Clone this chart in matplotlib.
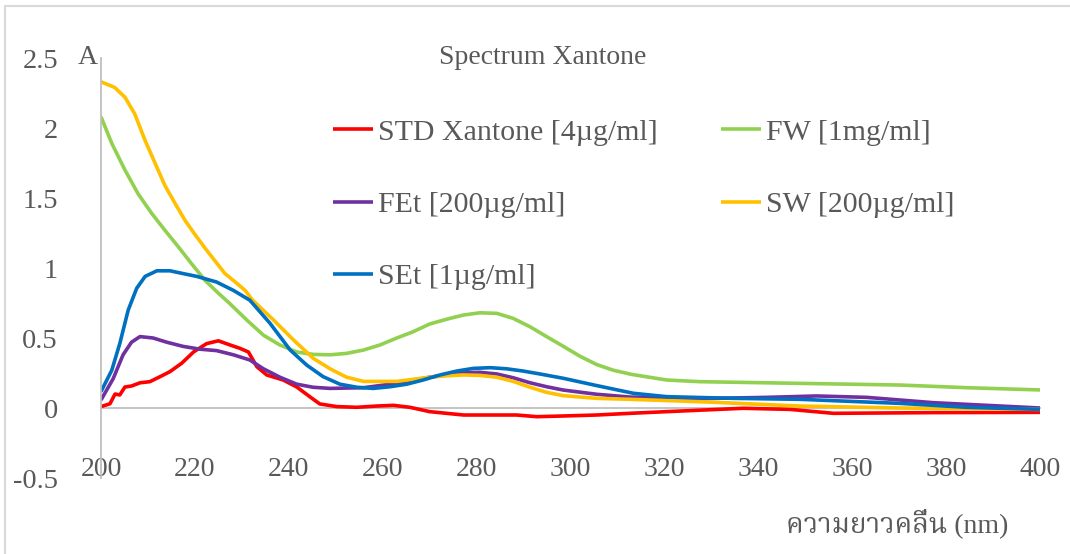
import numpy as np
import matplotlib
matplotlib.use("Agg")
import matplotlib.pyplot as plt
from matplotlib.lines import Line2D

# valeurs (longueur d'onde en nm, absorbance A)
std_x = [200, 201.9, 203, 204, 205.1, 206.5, 208.3, 210.4, 212.6, 214.7, 217.2, 219.7, 222.5,
         225, 227.5, 229.6, 231.4, 233.2, 235.3, 238.8, 241.7, 244.5, 246.6, 250.2, 254.5,
         258.7, 262.3, 265.8, 270, 277.2, 284.3, 288.5, 292.8, 298.5, 305.6, 312.7, 320.5,
         336.8, 346.8, 356, 377.3, 400]
std_y = [0.01, 0.03, 0.10, 0.093, 0.15, 0.157, 0.18, 0.188, 0.224, 0.26, 0.32, 0.40, 0.46,
         0.48, 0.45, 0.426, 0.40, 0.295, 0.236, 0.20, 0.15, 0.08, 0.029, 0.01, 0.005,
         0.014, 0.019, 0.005, -0.026, -0.05, -0.05, -0.05, -0.062, -0.057, -0.05, -0.038, -0.026,
         -0.002, -0.01, -0.038, -0.033, -0.031]

fw_x = [200, 202.3, 205.1, 207.9, 210.8, 213.6, 216.5, 219.3, 222.2, 225, 227.3, 231, 234.6,
        238.1, 241.7, 245.2, 248.8, 252.3, 255.9, 259.4, 263, 266.5, 270, 273.6, 277.2, 280.7,
        284.3, 287.8, 291.4, 294.9, 298.5, 302, 305.6, 309.1, 313, 320.5, 327.6, 348.9,
        370.2, 384.4, 400]
fw_y = [2.08, 1.89, 1.70, 1.53, 1.39, 1.27, 1.15, 1.03, 0.91, 0.82, 0.75, 0.63, 0.52,
        0.45, 0.40, 0.383, 0.38, 0.39, 0.414, 0.45, 0.50, 0.545, 0.60, 0.634, 0.664, 0.68,
        0.676, 0.64, 0.58, 0.51, 0.44, 0.37, 0.31, 0.27, 0.24, 0.20, 0.188, 0.176,
        0.164, 0.145, 0.129]

fet_x = [200, 202.6, 204.7, 206.5, 208.3, 211.1, 214, 217.5, 221.1, 224.6, 228.2, 231.7,
         234.6, 238.1, 241.7, 245.2, 248.8, 255.9, 263, 270, 277.2, 280.7, 284.3, 287.8,
         291.4, 294.9, 298.5, 305.6, 312.7, 327.6, 341.8, 352.4, 363.1, 377.3, 400]
fet_y = [0.057, 0.21, 0.38, 0.47, 0.51, 0.50, 0.47, 0.44, 0.42, 0.41, 0.38, 0.343,
         0.28, 0.22, 0.17, 0.148, 0.14, 0.145, 0.176, 0.22, 0.252, 0.255, 0.243, 0.216,
         0.18, 0.152, 0.128, 0.098, 0.078, 0.067, 0.076, 0.086, 0.076, 0.038, 0.0]

sw_x = [200, 202.9, 205.1, 207.2, 209.4, 211.5, 213.6, 215.8, 217.9, 220, 222.2, 224.3,
        226.4, 228.6, 230.7, 232.3, 236.7, 241, 245.2, 248.8, 252.3, 255.9, 259.4, 263,
        266.5, 270, 273.6, 277.2, 280.7, 284.3, 287.8, 291.4, 294.9, 298.5, 305.6, 312.7,
        327.6, 348.9, 370.2, 400]
sw_y = [2.33, 2.29, 2.22, 2.10, 1.91, 1.75, 1.59, 1.46, 1.34, 1.24, 1.14, 1.05,
        0.96, 0.90, 0.84, 0.77, 0.63, 0.486, 0.355, 0.28, 0.22, 0.19, 0.19, 0.19,
        0.205, 0.22, 0.23, 0.236, 0.233, 0.22, 0.19, 0.148, 0.112, 0.088, 0.069, 0.062,
        0.045, 0.014, 0.0, -0.01]

set_x = [200, 202.3, 204, 205.8, 207.6, 209.4, 211.9, 214.7, 217.5, 220.4, 224.6, 228.2,
         231.7, 236, 240.3, 243.8, 247.3, 250.9, 254.5, 258, 261.6, 265.1, 268.6, 272.2,
         275.8, 279.3, 282.9, 286.4, 289.9, 293.5, 298.5, 305.6, 313.4, 320.5, 334.7,
         348.9, 370.2, 384.4, 400]
set_y = [0.117, 0.27, 0.46, 0.70, 0.855, 0.94, 0.98, 0.98, 0.96, 0.94, 0.90, 0.84,
         0.77, 0.605, 0.414, 0.307, 0.224, 0.17, 0.148, 0.14, 0.152, 0.17, 0.20, 0.236,
         0.264, 0.283, 0.288, 0.28, 0.264, 0.243, 0.212, 0.16, 0.105, 0.081, 0.069,
         0.062, 0.033, 0.005, -0.01]

series = [
    ("STD Xantone [4µg/ml]", std_x, std_y, "#FF0000"),
    ("FW [1mg/ml]", fw_x, fw_y, "#92D050"),
    ("FEt [200µg/ml]", fet_x, fet_y, "#7030A0"),
    ("SW [200µg/ml]", sw_x, sw_y, "#FFC000"),
    ("SEt [1µg/ml]", set_x, set_y, "#0070C0"),
]

plt.rcParams['font.family'] = ['Liberation Serif', 'Noto Serif Thai', 'Noto Sans Thai',
                               'Loma', 'Garuda', 'Tlwg Typo', 'DejaVu Sans']
gris = "#595959"

W, H = 1070, 554
fig = plt.figure(figsize=(W / 100, H / 100), dpi=100)
ax = fig.add_axes([101 / W, 1 - 478 / H, (1040 - 101) / W, (478 - 58) / H])

handles = {}
for nom, xs, ys, c in series:
    ln, = ax.plot(xs, ys, color=c, lw=2.6, solid_capstyle="butt", solid_joinstyle="round")
    handles[nom] = ln

ax.set_xlim(200, 400)
ax.set_ylim(-0.5, 2.5)
ax.set_xticks(np.arange(200, 401, 20))
ax.set_yticks(np.arange(-0.5, 2.51, 0.5))
ax.set_yticklabels(["-0.5", "0", "0.5", "1", "1.5", "2", "2.5"])

for s in ["top", "right"]:
    ax.spines[s].set_visible(False)
ax.spines["bottom"].set_position(("data", 0))
ax.spines["bottom"].set_color("#bfbfbf")
ax.spines["left"].set_color("#bfbfbf")
ax.spines["bottom"].set_linewidth(1.3)
ax.spines["left"].set_linewidth(1.3)
ax.spines["bottom"].set_zorder(0)
ax.tick_params(axis="x", length=0, pad=35.5, labelsize=20, labelcolor=gris)
ax.tick_params(axis="y", length=0, pad=31, labelsize=20.5, labelcolor=gris)

fig.text(88 / W, 1 - 57 / H, "A", ha="center", va="center", fontsize=20, color=gris)
fig.text(543 / W, 1 - 58 / H, "Spectrum Xantone", ha="center", va="center", fontsize=20, color=gris)
fig.text(897 / W, 1 - 523 / H, "ความยาวคลื่น (nm)", ha="center", va="center", fontsize=20, color=gris)

ordre = ["STD Xantone [4µg/ml]", "FEt [200µg/ml]", "SEt [1µg/ml]", "FW [1mg/ml]", "SW [200µg/ml]"]
leg = fig.legend([handles[n] for n in ordre], ordre, loc="upper left",
                 bbox_to_anchor=(333 / W, 1 - 119 / H), ncol=2, frameon=False,
                 fontsize=21.5, handlelength=1.34, handletextpad=0.17, labelspacing=1.52,
                 columnspacing=2.1, borderpad=0, borderaxespad=0, labelcolor=gris)

# cadre gris du graphique
fig.add_artist(Line2D([5 / W, 5 / W, 1], [0, 1 - 6 / H, 1 - 6 / H], color="#d9d9d9", lw=1.5))

fig.savefig("out.png", dpi=100)
